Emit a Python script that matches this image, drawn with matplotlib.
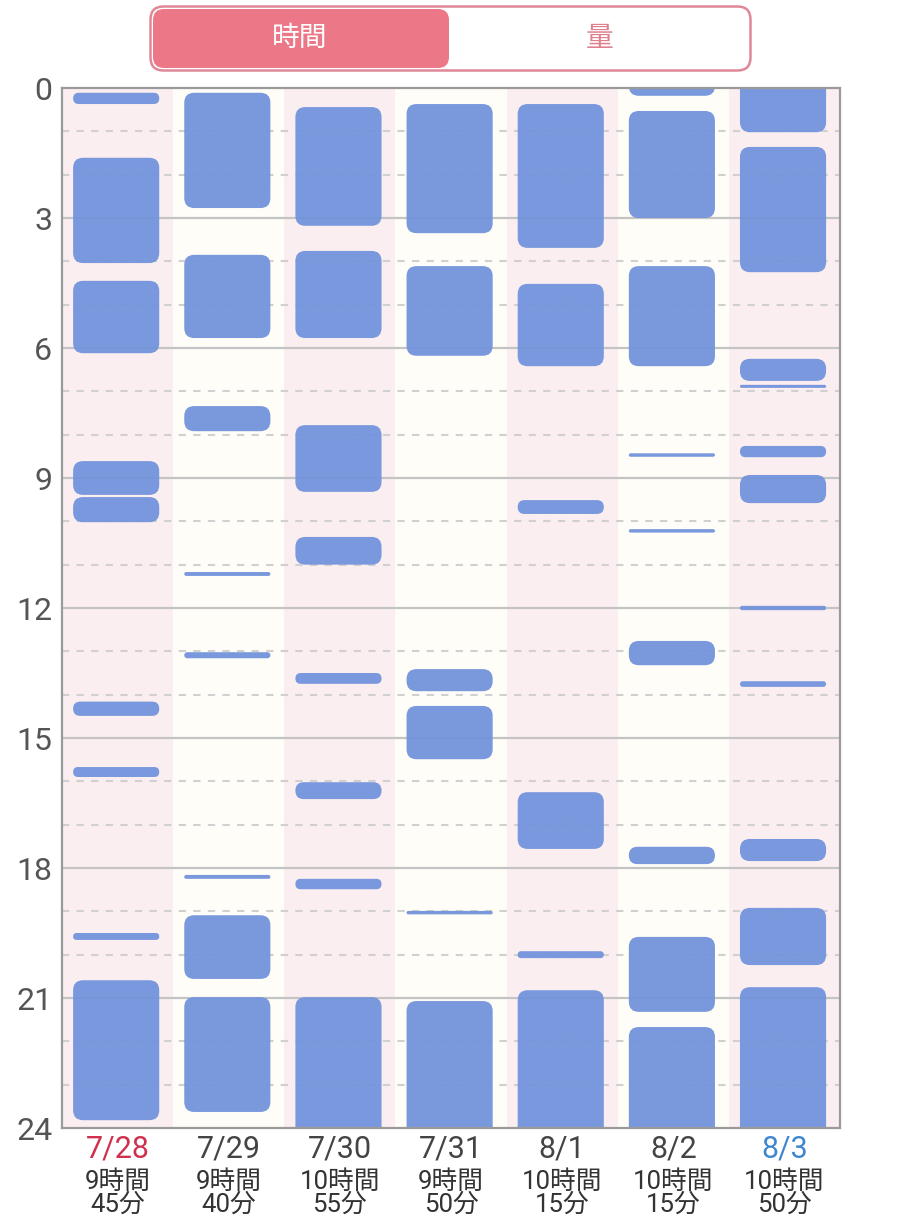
import matplotlib
matplotlib.use("Agg")
import matplotlib.pyplot as plt
from matplotlib.patches import FancyBboxPatch

plt.rcParams['font.family'] = ['Roboto', 'Noto Sans CJK JP', 'DejaVu Sans']

# ---------------- data ----------------
dates = ["7/28", "7/29", "7/30", "7/31", "8/1", "8/2", "8/3"]
date_colors = ["#d0304e", "#444444", "#444444", "#444444", "#444444", "#444444", "#3f86d0"]
total_hours = ["9時間", "9時間", "10時間", "9時間", "10時間", "10時間", "10時間"]
total_minutes = ["45分", "40分", "55分", "50分", "15分", "15分", "50分"]

# sleep intervals (start hour, end hour) per day; 0 / 24 mean the sleep continues across midnight
sleep_0728 = [(0.11, 0.37), (1.61, 4.04), (4.45, 6.12), (8.61, 9.39), (9.44, 10.02),
              (14.16, 14.49), (15.67, 15.90), (19.50, 19.66), (20.59, 23.82)]
sleep_0729 = [(0.11, 2.77), (3.85, 5.77), (7.34, 7.92), (11.17, 11.26), (13.02, 13.16),
              (18.16, 18.25), (19.09, 20.56), (20.98, 23.63)]
sleep_0730 = [(0.44, 3.18), (3.76, 5.77), (7.78, 9.32), (10.36, 11.00), (13.50, 13.75),
              (16.02, 16.41), (18.25, 18.49), (20.98, 24.0)]
sleep_0731 = [(0.37, 3.35), (4.11, 6.18), (13.41, 13.92), (14.26, 15.49), (18.99, 19.07),
              (21.07, 24.0)]
sleep_0801 = [(0.37, 3.69), (4.52, 6.42), (9.51, 9.83), (16.25, 17.56), (19.92, 20.08),
              (20.82, 24.0)]
sleep_0802 = [(0.0, 0.18), (0.53, 3.00), (4.11, 6.42), (8.43, 8.51), (10.18, 10.26),
              (12.76, 13.32), (17.51, 17.91), (19.59, 21.32), (21.67, 24.0)]
sleep_0803 = [(0.0, 1.02), (1.36, 4.25), (6.25, 6.76), (6.85, 6.92), (8.26, 8.52),
              (8.93, 9.58), (11.95, 12.05), (13.69, 13.82), (17.33, 17.84), (18.92, 20.24),
              (20.75, 24.0)]
sleep_by_day = [sleep_0728, sleep_0729, sleep_0730, sleep_0731, sleep_0801, sleep_0802, sleep_0803]

y_ticks = [0, 3, 6, 9, 12, 15, 18, 21, 24]
tab_labels = ["時間", "量"]

# ---------------- figure ----------------
W, H = 900, 1220
fig = plt.figure(figsize=(W / 100, H / 100), dpi=100)
fig.patch.set_facecolor("white")

ax_l, ax_r, ax_t, ax_b = 62, 840, 88, 1128
ax = fig.add_axes([ax_l / W, 1 - ax_b / H, (ax_r - ax_l) / W, (ax_b - ax_t) / H])
ax.set_xlim(0, 7)
ax.set_ylim(24, 0)

pink_bg = "#fbeef0"
cream_bg = "#fffdf7"
for i in range(7):
    ax.axvspan(i, i + 1, color=pink_bg if i % 2 == 0 else cream_bg, lw=0, zorder=0)

for h in range(1, 24):
    if h % 3 == 0:
        ax.axhline(h, color="#c4c4c4", lw=1.6, zorder=1)
    else:
        ax.axhline(h, color="#d0d0d0", lw=1.5, ls=(0, (3.5, 3.5)), zorder=1)

px_x = (ax_r - ax_l) / 7.0
px_y = (ax_b - ax_t) / 24.0
aspect = px_x / px_y
radius = 10.0 / px_x
bar_color = "#7394dc"

for i, segs in enumerate(sleep_by_day):
    x0 = i + 0.10
    w = 0.775
    for s, e in segs:
        if s <= 0:
            s = s - 0.6
        if e >= 24:
            e = e + 0.6
        hgt = e - s
        rs = min(radius, hgt / aspect / 2.0)
        p = FancyBboxPatch((x0, s), w, hgt,
                           boxstyle=f"round,pad=0,rounding_size={rs}",
                           mutation_aspect=aspect, fc=bar_color, ec="none",
                           alpha=0.95, zorder=3, clip_on=True)
        ax.add_patch(p)

for sp in ax.spines.values():
    sp.set_color("#9a9a9a")
    sp.set_linewidth(1.6)
    sp.set_zorder(5)

ax.set_yticks(y_ticks)
ax.set_yticklabels([str(t) for t in y_ticks], fontsize=23, color="#555555")
ax.tick_params(axis="y", length=0, pad=7)
ax.set_xticks([])

trans = ax.get_xaxis_transform()
hpx = ax_b - ax_t
for i in range(7):
    cx = i + 0.5
    ax.text(cx, -(1149 - ax_b) / hpx, dates[i],
            transform=trans, ha="center", va="center", fontsize=22, color=date_colors[i])
    ax.text(cx, -(1182 - ax_b) / hpx, total_hours[i], transform=trans,
            ha="center", va="center", fontsize=18.5, color="#333333")
    ax.text(cx, -(1205 - ax_b) / hpx, total_minutes[i], transform=trans,
            ha="center", va="center", fontsize=18.5, color="#333333")

# ---------------- tab switch ----------------
tx0, tx1, ty0, ty1 = 149, 752, 5, 72
tab = fig.add_axes([tx0 / W, 1 - ty1 / H, (tx1 - tx0) / W, (ty1 - ty0) / H])
tw, th = tx1 - tx0, ty1 - ty0
tab.set_xlim(0, tw)
tab.set_ylim(0, th)
tab.axis("off")
tab.add_patch(FancyBboxPatch((1.5, 1.5), tw - 3, th - 3,
                             boxstyle="round,pad=0,rounding_size=13",
                             fc="white", ec="#e08898", lw=1.8))
tab.add_patch(FancyBboxPatch((4, 4), 296, th - 8,
                             boxstyle="round,pad=0,rounding_size=11",
                             fc="#ec7786", ec="none"))
tab.text(151, th / 2, tab_labels[0], ha="center", va="center", fontsize=20, color="white")
tab.text(451, th / 2, tab_labels[1], ha="center", va="center", fontsize=20, color="#e07f8e")

fig.savefig("out.png", dpi=100, facecolor="white")
